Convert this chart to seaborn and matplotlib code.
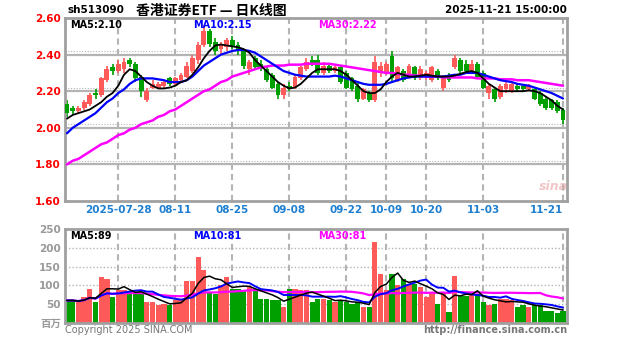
import matplotlib
matplotlib.use("Agg")
import matplotlib.pyplot as plt
import seaborn as sns
import numpy as np
import pandas as pd

# ---------------- data ----------------
opens = [2.13,2.11,2.09,2.11,2.13,2.19,2.18,2.26,2.33,2.31,
         2.32,2.37,2.35,2.28,2.15,2.22,2.22,2.23,2.27,2.24,
         2.26,2.28,2.31,2.37,2.45,2.53,2.47,2.43,2.44,2.48,
         2.45,2.42,2.32,2.38,2.35,2.32,2.29,2.24,2.18,2.23,
         2.22,2.27,2.32,2.37,2.37,2.30,2.34,2.31,2.33,2.30,
         2.27,2.23,2.16,2.19,2.15,2.30,2.30,2.39,2.26,2.31,
         2.28,2.33,2.27,2.29,2.26,2.31,2.22,2.29,2.33,2.37,
         2.35,2.31,2.35,2.30,2.19,2.21,2.17,2.21,2.20,2.23,
         2.23,2.21,2.21,2.19,2.16,2.15,2.14,2.10]
highs = [2.15,2.12,2.12,2.15,2.19,2.21,2.28,2.34,2.35,2.37,
         2.38,2.38,2.36,2.29,2.22,2.26,2.25,2.26,2.28,2.28,
         2.30,2.36,2.40,2.47,2.56,2.54,2.49,2.47,2.49,2.50,
         2.47,2.43,2.37,2.39,2.37,2.33,2.30,2.25,2.24,2.25,
         2.29,2.34,2.38,2.39,2.40,2.36,2.35,2.34,2.34,2.31,
         2.28,2.25,2.22,2.20,2.39,2.36,2.36,2.42,2.34,2.32,
         2.35,2.34,2.34,2.31,2.34,2.32,2.29,2.30,2.40,2.38,
         2.37,2.37,2.36,2.31,2.24,2.22,2.24,2.25,2.25,2.24,
         2.24,2.24,2.22,2.20,2.17,2.16,2.15,2.11]
lows = [2.06,2.07,2.08,2.10,2.12,2.16,2.17,2.25,2.29,2.30,
        2.30,2.33,2.25,2.17,2.14,2.21,2.21,2.22,2.23,2.23,
        2.25,2.27,2.30,2.35,2.44,2.44,2.40,2.40,2.42,2.43,
        2.40,2.32,2.29,2.32,2.31,2.25,2.21,2.16,2.16,2.20,
        2.21,2.26,2.31,2.34,2.29,2.29,2.30,2.30,2.24,2.21,
        2.20,2.14,2.15,2.14,2.14,2.28,2.29,2.25,2.25,2.25,
        2.27,2.26,2.26,2.26,2.25,2.26,2.20,2.25,2.32,2.30,
        2.30,2.30,2.27,2.21,2.16,2.14,2.16,2.19,2.19,2.20,
        2.20,2.20,2.15,2.12,2.10,2.10,2.08,2.02]
closes = [2.08,2.09,2.11,2.14,2.18,2.18,2.27,2.32,2.31,2.35,
          2.36,2.35,2.27,2.20,2.20,2.24,2.24,2.25,2.24,2.27,
          2.29,2.34,2.38,2.45,2.53,2.46,2.42,2.45,2.48,2.44,
          2.42,2.34,2.36,2.33,2.32,2.26,2.22,2.18,2.22,2.21,
          2.28,2.33,2.36,2.35,2.30,2.34,2.31,2.33,2.25,2.22,
          2.21,2.16,2.21,2.15,2.36,2.34,2.35,2.27,2.33,2.26,
          2.34,2.27,2.32,2.30,2.33,2.27,2.28,2.26,2.38,2.31,
          2.31,2.35,2.28,2.22,2.23,2.16,2.23,2.24,2.24,2.21,
          2.21,2.23,2.16,2.13,2.11,2.11,2.09,2.04]
volumes = [60,60,55,69,91,55,122,118,69,87,
           87,82,82,78,55,55,47,51,47,60,
           64,113,113,175,140,82,78,100,122,91,
           91,87,96,90,64,64,60,60,42,91,
           91,87,87,55,64,64,60,55,60,55,
           51,55,42,42,215,131,87,131,100,118,
           104,104,96,69,82,51,82,29,126,73,
           73,78,78,55,47,51,64,64,60,42,
           47,42,47,47,33,33,27,33]
ma5 = [2.05,2.07,2.08,2.09,2.10,2.12,2.14,2.17,2.19,2.23,
       2.29,2.32,2.31,2.28,2.25,2.23,2.215,2.215,2.22,2.23,
       2.25,2.26,2.29,2.33,2.38,2.42,2.45,2.455,2.45,2.445,
       2.44,2.43,2.41,2.37,2.34,2.31,2.28,2.25,2.23,2.215,
       2.22,2.24,2.27,2.30,2.32,2.32,2.32,2.32,2.31,2.29,
       2.26,2.23,2.20,2.19,2.19,2.21,2.25,2.28,2.30,2.29,
       2.28,2.28,2.285,2.29,2.285,2.28,2.28,2.28,2.285,2.295,
       2.305,2.31,2.30,2.27,2.24,2.22,2.20,2.20,2.20,2.20,
       2.20,2.205,2.20,2.19,2.17,2.15,2.12,2.10]
ma10 = [1.97,2.00,2.02,2.04,2.06,2.08,2.11,2.14,2.16,2.19,
        2.21,2.24,2.26,2.27,2.27,2.27,2.265,2.26,2.25,2.25,
        2.25,2.26,2.28,2.31,2.34,2.36,2.38,2.40,2.41,2.42,
        2.425,2.425,2.42,2.41,2.39,2.37,2.35,2.33,2.31,2.30,
        2.29,2.285,2.28,2.28,2.28,2.28,2.28,2.285,2.28,2.27,
        2.26,2.25,2.24,2.235,2.235,2.235,2.24,2.25,2.26,2.27,
        2.275,2.28,2.28,2.28,2.28,2.28,2.28,2.285,2.29,2.29,
        2.30,2.30,2.30,2.29,2.28,2.27,2.26,2.255,2.25,2.24,
        2.235,2.23,2.22,2.21,2.20,2.19,2.175,2.16]
ma30 = [1.80,1.82,1.83,1.85,1.87,1.89,1.91,1.92,1.94,1.96,
        1.97,1.99,2.00,2.02,2.03,2.04,2.06,2.07,2.09,2.10,
        2.12,2.14,2.16,2.18,2.20,2.21,2.23,2.25,2.26,2.28,
        2.29,2.30,2.31,2.32,2.33,2.335,2.34,2.34,2.34,2.345,
        2.345,2.345,2.35,2.35,2.35,2.35,2.35,2.345,2.34,2.335,
        2.33,2.325,2.32,2.315,2.31,2.305,2.30,2.30,2.295,2.29,
        2.29,2.285,2.285,2.28,2.28,2.28,2.275,2.275,2.275,2.275,
        2.275,2.275,2.27,2.27,2.27,2.27,2.265,2.265,2.265,2.26,
        2.26,2.26,2.255,2.25,2.245,2.24,2.235,2.23]
date_idx = [9, 19, 29, 39, 49, 56, 63, 73, 87]
date_labels = ["2025-07-28", "08-11", "08-25", "09-08", "09-22",
               "10-09", "10-20", "11-03", "11-21"]
price_ticks = [1.60, 1.80, 2.00, 2.20, 2.40, 2.60]
vol_ticks = [0, 50, 100, 150, 200, 250]
vol_tick_labels = ["百万", "50", "100", "150", "200", "250"]

# ---------------- styling ----------------
sns.set_theme(style="white")
plt.rcParams['font.family'] = ['DejaVu Sans', 'Noto Sans CJK SC']
RED = "#FF5A5A"
GREEN = "#00A000"
GRID = "#B4B4B4"
FRAME = "#A0A0A0"

W, H = 627, 342
fig = plt.figure(figsize=(W / 100, H / 100), dpi=100)
fig.patch.set_facecolor("white")

def fx(x):
    return x / W

def fy(y):
    return 1 - y / H

ax = fig.add_axes([fx(65), fy(201), fx(567) - fx(65), fy(18) - fy(201)])
axv = fig.add_axes([fx(65), fy(323), fx(567) - fx(65), fy(229) - fy(323)])

df = pd.DataFrame({"i": np.arange(len(closes)), "open": opens, "high": highs,
                   "low": lows, "close": closes, "vol": volumes,
                   "ma5": ma5, "ma10": ma10, "ma30": ma30})
up = df["close"] >= df["open"]
cols = np.where(up, RED, GREEN)
xlim = (-0.35, 87.7)

# ---- price panel ----
for p in price_ticks[1:-1]:
    ax.axhline(p, color=GRID, lw=1.6, zorder=0)
    ax.axhline(p + 0.02, color=GRID, lw=0.8, ls=(0, (1, 1.5)), zorder=0)
for d in date_idx:
    ax.axvline(d, color=GRID, lw=1.5, ls=(0, (3, 2)), zorder=0)

ax.vlines(df["i"], df["low"], df["high"], colors=cols, lw=1.2, zorder=2)
body = (df["close"] - df["open"]).abs().clip(lower=0.006)
ax.bar(df["i"], body, bottom=np.minimum(df["open"], df["close"]), width=0.85,
       color=cols, linewidth=0, zorder=3)
sns.lineplot(x=df["i"], y=df["ma30"], ax=ax, color="#FF00FF", lw=1.8, zorder=4)
sns.lineplot(x=df["i"], y=df["ma10"], ax=ax, color="#0000FF", lw=1.6, zorder=5)
sns.lineplot(x=df["i"], y=df["ma5"], ax=ax, color="black", lw=1.3, zorder=6)

ax.set_xlim(*xlim)
ax.set_ylim(1.60, 2.60)
ax.set_yticks(price_ticks)
ax.set_yticklabels([f"{p:.2f}" for p in price_ticks], color="red",
                   fontsize=7.5, fontweight="bold")
ax.set_xticks(date_idx)
ax.set_xticklabels(date_labels, color="#1E7FD0", fontsize=7.5, fontweight="bold")
ax.get_xticklabels()[-1].set_ha("right")
ax.tick_params(length=0, pad=3)
ax.set_xlabel("")
ax.set_ylabel("")
for s in ax.spines.values():
    s.set_color(FRAME)
    s.set_linewidth(2)

# ---- volume panel ----
for v in vol_ticks[1:-1]:
    axv.axhline(v, color=GRID, lw=1.0, ls=(0, (1, 1.5)), zorder=0)
for d in date_idx:
    axv.axvline(d, color=GRID, lw=1.5, ls=(0, (3, 2)), zorder=0)
axv.bar(df["i"], df["vol"], width=0.92, color=cols, linewidth=0, zorder=2)
vma5 = df["vol"].rolling(5, min_periods=1).mean()
vma10 = df["vol"].rolling(10, min_periods=1).mean()
vma30 = df["vol"].rolling(30, min_periods=1).mean()
sns.lineplot(x=df["i"], y=vma30, ax=axv, color="#FF00FF", lw=1.6, zorder=4)
sns.lineplot(x=df["i"], y=vma10, ax=axv, color="#0000FF", lw=1.4, zorder=5)
sns.lineplot(x=df["i"], y=vma5, ax=axv, color="black", lw=1.1, zorder=6)
axv.set_xlim(*xlim)
axv.set_ylim(0, 250)
axv.set_yticks(vol_ticks)
axv.set_yticklabels(vol_tick_labels, color="#999999", fontsize=7.5,
                    fontweight="bold")
axv.set_xticks([])
axv.tick_params(length=0, pad=3)
axv.set_xlabel("")
axv.set_ylabel("")
for s in axv.spines.values():
    s.set_color(FRAME)
    s.set_linewidth(2)

# ---- texts ----
fig.text(fx(68), fy(10), "sh513090", fontsize=7.5, fontweight="bold",
         color="black", va="center", ha="left")
fig.text(fx(211), fy(11), "香港证券ETF — 日K线图", fontsize=10, fontweight="bold",
         color="black", va="center", ha="center",
         family=["Noto Sans CJK SC", "DejaVu Sans"])
fig.text(fx(567), fy(10), "2025-11-21 15:00:00", fontsize=7.5, fontweight="bold",
         color="black", va="center", ha="right")

fig.text(fx(70), fy(25), "MA5:2.10", fontsize=7, fontweight="bold", color="black",
         va="center")
fig.text(fx(193), fy(25), "MA10:2.15", fontsize=7, fontweight="bold", color="#0000FF",
         va="center")
fig.text(fx(318), fy(25), "MA30:2.22", fontsize=7, fontweight="bold", color="#FF00FF",
         va="center")
fig.text(fx(70), fy(236), "MA5:89", fontsize=7, fontweight="bold", color="black",
         va="center")
fig.text(fx(193), fy(236), "MA10:81", fontsize=7, fontweight="bold", color="#0000FF",
         va="center")
fig.text(fx(318), fy(236), "MA30:81", fontsize=7, fontweight="bold", color="#FF00FF",
         va="center")

fig.text(fx(65), fy(330), "Copyright 2025 SINA.COM", fontsize=7, color="#777777",
         va="center", ha="left")
fig.text(fx(567), fy(330), "http://finance.sina.com.cn", fontsize=7,
         fontweight="bold", color="#777777", va="center", ha="right")
fig.text(fx(553), fy(187), "sina", fontsize=9, fontweight="bold", style="italic",
         color="#E8A0A0", alpha=0.6, va="center", ha="center")

fig.savefig("out.png", dpi=100, facecolor="white")
